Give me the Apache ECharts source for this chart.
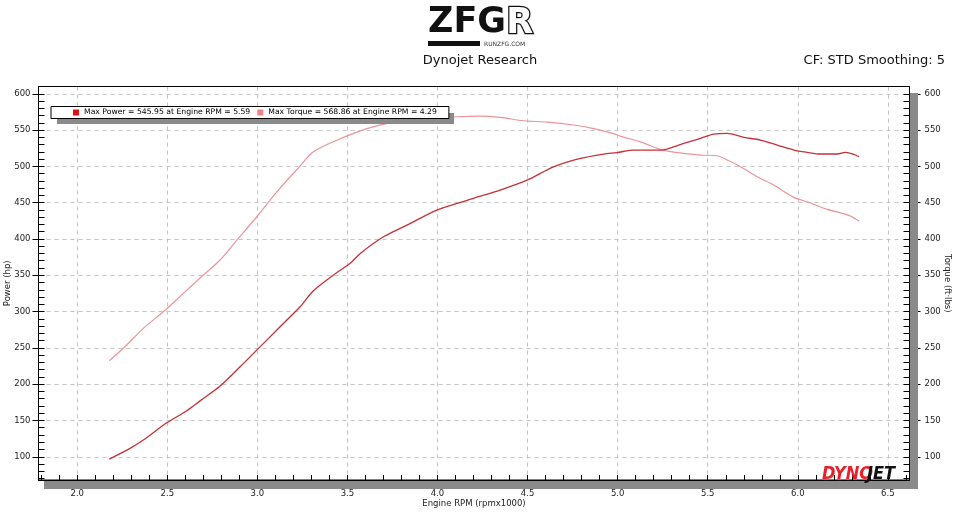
<!DOCTYPE html>
<html>
<head>
<meta charset="utf-8">
<script src="https://cdn.jsdelivr.net/npm/echarts@6/dist/echarts.min.js"></script>
<style>html,body{margin:0;padding:0;background:#fff}#c{width:960px;height:516px}</style>
</head>
<body>
<div id="c"></div>
<script>
// ---- data ----
const powerRpm = [2.178,2.293,2.367,2.497,2.608,2.682,2.793,2.904,3.006,3.126,3.237,3.311,3.422,3.515,3.571,3.7,3.83,3.997,4.2,4.348,4.497,4.644,4.793,4.922,4.997,5.089,5.237,5.367,5.46,5.533,5.608,5.7,5.793,5.886,5.978,6.052,6.126,6.219,6.265,6.311,6.34];
const powerHp = [96.8,111.6,123,146.8,163.4,177,197.4,224,249.3,279,306.6,328.6,350.3,366.4,380,403,419,439.8,456,467.4,481,499.4,511,517,519,522.5,522.5,531.7,538.6,544.5,545.4,540,536.2,529.3,522.5,519.3,517,517,519.3,516.5,513.2];
const torqueRpm = [2.178,2.265,2.367,2.478,2.589,2.7,2.793,2.886,2.997,3.108,3.237,3.311,3.441,3.608,3.737,3.886,4.015,4.108,4.237,4.348,4.478,4.608,4.756,4.867,4.978,5.015,5.126,5.237,5.33,5.46,5.552,5.608,5.682,5.775,5.867,5.978,6.052,6.163,6.237,6.293,6.34];
const torqueFtlb = [232.2,251.5,276.9,299.7,325,350.3,371,398.5,430.6,465,500.4,520,536,552,560,564.7,566,568.3,569.3,567.5,562.8,561,557,552,545,541.7,533.8,523.4,518.8,515.6,514.6,508.7,499.5,485.7,474.2,457.3,451.2,440.7,436,431.5,424.6];
const seriesNames = ['Power','Torque'];
const legendTexts = ['Max Power = 545.95 at Engine RPM = 5.59','Max Torque = 568.86 at Engine RPM = 4.29'];
const xLabelValues = [2.0,2.5,3.0,3.5,4.0,4.5,5.0,5.5,6.0,6.5];
const xMinorValues = [1.8,1.9,2.0,2.1,2.2,2.3,2.4,2.5,2.6,2.7,2.8,2.9,3.0,3.1,3.2,3.3,3.4,3.5,3.6,3.7,3.8,3.9,4.0,4.1,4.2,4.3,4.4,4.5,4.6,4.7,4.8,4.9,5.0,5.1,5.2,5.3,5.4,5.5,5.6,5.7,5.8,5.9,6.0,6.1,6.2,6.3,6.4,6.5,6.6];
const yLabelValues = [100,150,200,250,300,350,400,450,500,550,600];
const yMinorValues = [70,80,90,100,110,120,130,140,150,160,170,180,190,200,210,220,230,240,250,260,270,280,290,300,310,320,330,340,350,360,370,380,390,400,410,420,430,440,450,460,470,480,490,500,510,520,530,540,550,560,570,580,590,600];

const X_MIN = 1.785, X_MAX = 6.62, Y_MIN = 68, Y_MAX = 610;
const FONT = 'DejaVu Sans';
const gridLine = {show:true, lineStyle:{color:'#c4c4c4', type:[4,4], width:1}};

const chart = echarts.init(document.getElementById('c'), null, {renderer:'canvas'});
const xBase = {type:'value', min:X_MIN, max:X_MAX, gridIndex:0};
const yBase = {type:'value', min:Y_MIN, max:Y_MAX, gridIndex:0};

chart.setOption({
  animation:false,
  backgroundColor:'#fff',
  grid:{left:38.5, right:50.5, top:86.5, bottom:36, containLabel:false, outerBoundsMode:'none',
        show:true, borderColor:'#000', borderWidth:1, backgroundColor:'transparent', z:3},
  legend:{
    left:51, top:106.5, orient:'horizontal',
    padding:[2,12,2,22], itemGap:7, itemWidth:6, itemHeight:6,
    backgroundColor:'#fff', borderColor:'#000', borderWidth:1,
    data:[
      {name:seriesNames[0], icon:'rect', itemStyle:{color:'#dd1111'}},
      {name:seriesNames[1], icon:'rect', itemStyle:{color:'#f07f86'}}
    ],
    formatter:function(n){return legendTexts[seriesNames.indexOf(n)];},
    textStyle:{fontFamily:FONT, fontSize:7.7, color:'#000', lineHeight:8},
    z:10
  },
  xAxis:[
    Object.assign({}, xBase, {
      position:'bottom',
      name:'Engine RPM (rpmx1000)', nameLocation:'middle', nameGap:19, nameMoveOverlap:false,
      nameTextStyle:{fontFamily:FONT, fontSize:8.5, color:'#222'},
      axisLine:{show:true, onZero:false, lineStyle:{color:'#000', width:1}},
      axisTick:{show:true, inside:true, length:5, customValues:xMinorValues, lineStyle:{color:'#000'}},
      axisLabel:{show:true, customValues:xLabelValues, margin:9, fontFamily:FONT, fontSize:8.5, color:'#222', formatter:v=>v.toFixed(1)},
      splitLine:{show:false}
    }),
    Object.assign({}, xBase, {
      position:'bottom', show:true,
      axisLine:{show:false}, axisLabel:{show:false},
      axisTick:{show:false, customValues:xLabelValues},
      splitLine:gridLine
    })
  ],
  yAxis:[
    Object.assign({}, yBase, {
      position:'left',
      name:'Power (hp)', nameLocation:'middle', nameGap:26, nameRotate:90, nameMoveOverlap:false,
      nameTextStyle:{fontFamily:FONT, fontSize:8.5, color:'#222'},
      axisLine:{show:true, onZero:false, lineStyle:{color:'#000'}},
      axisTick:{show:true, inside:false, length:6, customValues:yLabelValues, lineStyle:{color:'#000'}},
      axisLabel:{show:true, customValues:yLabelValues, margin:8, fontFamily:FONT, fontSize:8.5, color:'#222'},
      splitLine:gridLine
    }),
    Object.assign({}, yBase, {
      position:'left',
      axisLine:{show:false}, axisLabel:{show:false},
      axisTick:{show:true, inside:true, length:6, customValues:yMinorValues, lineStyle:{color:'#000'}},
      splitLine:{show:false}
    }),
    Object.assign({}, yBase, {
      position:'right',
      name:'Torque (ft·lbs)', nameLocation:'middle', nameGap:33, nameRotate:-90, nameMoveOverlap:false,
      nameTextStyle:{fontFamily:FONT, fontSize:8.5, color:'#222'},
      axisLine:{show:true, onZero:false, lineStyle:{color:'#000'}},
      axisTick:{show:true, inside:false, length:11, customValues:yLabelValues, lineStyle:{color:'#000'}},
      axisLabel:{show:true, customValues:yLabelValues, margin:15, fontFamily:FONT, fontSize:8.5, color:'#222'},
      splitLine:{show:false}
    }),
    Object.assign({}, yBase, {
      position:'right',
      axisLine:{show:false}, axisLabel:{show:false},
      axisTick:{show:true, inside:true, length:6, customValues:yMinorValues, lineStyle:{color:'#000'}},
      splitLine:{show:false}
    })
  ],
  series:[
    {
      name:seriesNames[0], type:'line', xAxisIndex:0, yAxisIndex:0,
      data:powerRpm.map((x,i)=>[x,powerHp[i]]),
      showSymbol:false, smooth:0.3, z:5,
      lineStyle:{color:'#c4303a', width:1.3}, itemStyle:{color:'#c4303a'}
    },
    {
      name:seriesNames[1], type:'line', xAxisIndex:0, yAxisIndex:2,
      data:torqueRpm.map((x,i)=>[x,torqueFtlb[i]]),
      showSymbol:false, smooth:0.3, z:4,
      lineStyle:{color:'#e8959c', width:1.2}, itemStyle:{color:'#e8959c'}
    }
  ],
  graphic:[
    // drop shadow of the plot frame
    {type:'rect', z:1, shape:{x:910, y:93, width:8, height:396}, style:{fill:'#8a8a8a'}},
    {type:'rect', z:1, shape:{x:44, y:481, width:874, height:8}, style:{fill:'#8a8a8a'}},
    // legend box shadow
    {type:'rect', z:9, shape:{x:57, y:113, width:397, height:11}, style:{fill:'#8a8a8a'}},
    // header logo
    {type:'text', z:20, left:428, top:5, style:{text:'ZFG', font:'900 35px "DejaVu Sans"', fill:'#111'}},
    {type:'text', z:20, left:505, top:5, style:{text:'R', font:'900 35px "DejaVu Sans"', fill:'#fff', stroke:'#111', lineWidth:2.5}},
    {type:'rect', z:20, shape:{x:428, y:41, width:52, height:5}, style:{fill:'#111'}},
    {type:'text', z:20, left:484, top:41, style:{text:'RUNZFG.COM', font:'6px "DejaVu Sans"', fill:'#333'}},
    {type:'text', z:20, left:'center', top:54, style:{text:'Dynojet Research', font:'13px "DejaVu Sans"', fill:'#111'}},
    {type:'text', z:20, right:15, top:54, style:{text:'CF: STD Smoothing: 5', font:'13px "DejaVu Sans"', fill:'#111'}},
    // DYNOJET logo
    {type:'text', z:6, left:822, top:465, style:{text:'DYNO', font:'italic bold 18px "DejaVu Sans Condensed"', fill:'#e8202a'}},
    {type:'text', z:6, left:867, top:465, style:{text:'JET', font:'italic bold 18px "DejaVu Sans Condensed"', fill:'#111'}}
  ]
});
</script>
</body>
</html>
